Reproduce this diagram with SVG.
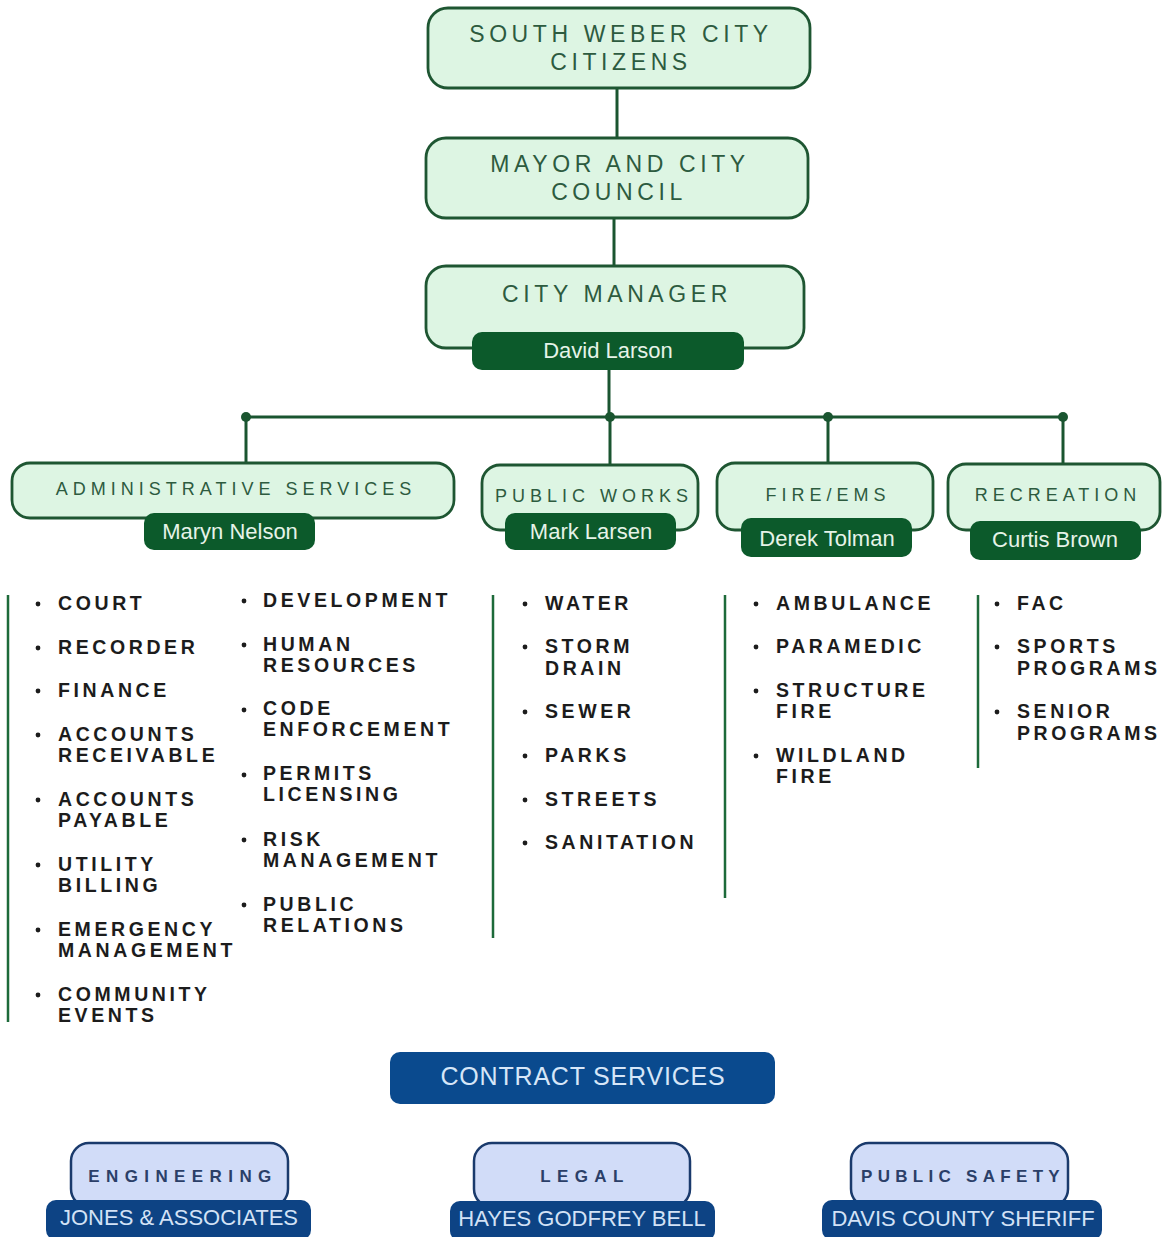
<svg xmlns="http://www.w3.org/2000/svg" width="1162" height="1237" viewBox="0 0 1162 1237">
<style>
.box{fill:#ddf5e3;stroke:#1e5632;stroke-width:2.8}
.pill{fill:#0c5a2b}
.cbox{fill:#d1dcf8;stroke:#1a3a6c;stroke-width:2.5}
.cpill{fill:#0d4384}
.h{font-family:"Liberation Sans",Arial,sans-serif;font-size:23px;letter-spacing:4.6px;fill:#2d5b3f;text-anchor:middle}
.dh{font-family:"Liberation Sans",Arial,sans-serif;font-size:18px;letter-spacing:5px;fill:#2d5b3f;text-anchor:middle}
.nm{font-family:"Liberation Sans",Arial,sans-serif;font-size:22px;fill:#e6f3e8;text-anchor:middle}
.li{font-family:"Liberation Sans",Arial,sans-serif;font-size:19.5px;font-weight:700;letter-spacing:3.6px;fill:#1c1c1c}
.ch{font-family:"Liberation Sans",Arial,sans-serif;font-size:17px;font-weight:700;letter-spacing:6.4px;fill:#2b3f68;text-anchor:middle}
.cn{font-family:"Liberation Sans",Arial,sans-serif;font-size:22px;fill:#d3e2f6;text-anchor:middle}
.ln{stroke:#1a5530;stroke-width:3;fill:none}
.vl{stroke:#1d6a3a;stroke-width:2.5}
.dot{fill:#1a5530}
.b{fill:#1c1c1c}
</style>
<rect width="1162" height="1237" fill="#ffffff"/>
<g id="connectors">
<line class="ln" x1="617" y1="88" x2="617" y2="138"/>
<line class="ln" x1="614" y1="218" x2="614" y2="266"/>
<line class="ln" x1="609" y1="370" x2="609" y2="417"/>
<line class="ln" x1="246" y1="417" x2="1063" y2="417"/>
<line class="ln" x1="246" y1="417" x2="246" y2="463"/>
<line class="ln" x1="610" y1="417" x2="610" y2="465"/>
<line class="ln" x1="828" y1="417" x2="828" y2="463"/>
<line class="ln" x1="1063" y1="417" x2="1063" y2="464"/>
<circle class="dot" cx="246" cy="417" r="5"/>
<circle class="dot" cx="610" cy="417" r="5"/>
<circle class="dot" cx="828" cy="417" r="5"/>
<circle class="dot" cx="1063" cy="417" r="5"/>
</g>
<g id="citizens">
<rect class="box" x="428" y="8" width="382" height="80" rx="20"/>
<text class="h" x="621" y="42">SOUTH WEBER CITY</text>
<text class="h" x="621" y="70">CITIZENS</text>
</g>
<g id="council">
<rect class="box" x="426" y="138" width="382" height="80" rx="20"/>
<text class="h" x="620" y="172">MAYOR AND CITY</text>
<text class="h" x="619" y="200">COUNCIL</text>
</g>
<g id="manager">
<rect class="box" x="426" y="266" width="378" height="82" rx="20"/>
<text class="h" x="617" y="302">CITY MANAGER</text>
<rect class="pill" x="472" y="332" width="272" height="38" rx="10"/>
<text class="nm" x="608" y="358">David Larson</text>
</g>
<g id="admin">
<rect class="box" x="12" y="463" width="442" height="55" rx="18"/>
<text class="dh" x="236" y="495">ADMINISTRATIVE SERVICES</text>
<rect class="pill" x="144" y="513" width="171" height="37" rx="10"/>
<text class="nm" x="230" y="539">Maryn Nelson</text>
</g>
<g id="publicworks">
<rect class="box" x="482" y="465" width="216" height="65" rx="18"/>
<text class="dh" x="594" y="502">PUBLIC WORKS</text>
<rect class="pill" x="505" y="513" width="171" height="37" rx="10"/>
<text class="nm" x="591" y="539">Mark Larsen</text>
</g>
<g id="fireems">
<rect class="box" x="717" y="463" width="216" height="67" rx="18"/>
<text class="dh" x="828" y="501">FIRE/EMS</text>
<rect class="pill" x="741" y="518" width="171" height="39" rx="10"/>
<text class="nm" x="827" y="546">Derek Tolman</text>
</g>
<g id="recreation">
<rect class="box" x="948" y="464" width="212" height="66" rx="18"/>
<text class="dh" x="1058" y="501">RECREATION</text>
<rect class="pill" x="970" y="521" width="171" height="39" rx="10"/>
<text class="nm" x="1055" y="547">Curtis Brown</text>
</g>
<g id="admin-list">
<line class="vl" x1="8" y1="595" x2="8" y2="1022"/>
<circle class="b" cx="38" cy="604" r="2.4"/><text class="li" x="58" y="610">COURT</text>
<circle class="b" cx="38" cy="648" r="2.4"/><text class="li" x="58" y="654">RECORDER</text>
<circle class="b" cx="38" cy="691" r="2.4"/><text class="li" x="58" y="697">FINANCE</text>
<circle class="b" cx="38" cy="735" r="2.4"/><text class="li" x="58" y="741">ACCOUNTS</text><text class="li" x="58" y="762">RECEIVABLE</text>
<circle class="b" cx="38" cy="800" r="2.4"/><text class="li" x="58" y="806">ACCOUNTS</text><text class="li" x="58" y="827">PAYABLE</text>
<circle class="b" cx="38" cy="865" r="2.4"/><text class="li" x="58" y="871">UTILITY</text><text class="li" x="58" y="892">BILLING</text>
<circle class="b" cx="38" cy="930" r="2.4"/><text class="li" x="58" y="936">EMERGENCY</text><text class="li" x="58" y="957">MANAGEMENT</text>
<circle class="b" cx="38" cy="995" r="2.4"/><text class="li" x="58" y="1001">COMMUNITY</text><text class="li" x="58" y="1022">EVENTS</text>
<circle class="b" cx="244" cy="601" r="2.4"/><text class="li" x="263" y="607">DEVELOPMENT</text>
<circle class="b" cx="244" cy="645" r="2.4"/><text class="li" x="263" y="651">HUMAN</text><text class="li" x="263" y="672">RESOURCES</text>
<circle class="b" cx="244" cy="710" r="2.4"/><text class="li" x="263" y="715">CODE</text><text class="li" x="263" y="736">ENFORCEMENT</text>
<circle class="b" cx="244" cy="775" r="2.4"/><text class="li" x="263" y="780">PERMITS</text><text class="li" x="263" y="801">LICENSING</text>
<circle class="b" cx="244" cy="840" r="2.4"/><text class="li" x="263" y="846">RISK</text><text class="li" x="263" y="867">MANAGEMENT</text>
<circle class="b" cx="244" cy="905" r="2.4"/><text class="li" x="263" y="911">PUBLIC</text><text class="li" x="263" y="932">RELATIONS</text>
</g>
<g id="pw-list">
<line class="vl" x1="493" y1="595" x2="493" y2="938"/>
<circle class="b" cx="525" cy="604" r="2.4"/><text class="li" x="545" y="610">WATER</text>
<circle class="b" cx="525" cy="647" r="2.4"/><text class="li" x="545" y="653">STORM</text><text class="li" x="545" y="675">DRAIN</text>
<circle class="b" cx="525" cy="712" r="2.4"/><text class="li" x="545" y="718">SEWER</text>
<circle class="b" cx="525" cy="756" r="2.4"/><text class="li" x="545" y="762">PARKS</text>
<circle class="b" cx="525" cy="800" r="2.4"/><text class="li" x="545" y="806">STREETS</text>
<circle class="b" cx="525" cy="843" r="2.4"/><text class="li" x="545" y="849">SANITATION</text>
</g>
<g id="fire-list">
<line class="vl" x1="725" y1="595" x2="725" y2="898"/>
<circle class="b" cx="756" cy="604" r="2.4"/><text class="li" x="776" y="610">AMBULANCE</text>
<circle class="b" cx="756" cy="647" r="2.4"/><text class="li" x="776" y="653">PARAMEDIC</text>
<circle class="b" cx="756" cy="691" r="2.4"/><text class="li" x="776" y="697">STRUCTURE</text><text class="li" x="776" y="718">FIRE</text>
<circle class="b" cx="756" cy="756" r="2.4"/><text class="li" x="776" y="762">WILDLAND</text><text class="li" x="776" y="783">FIRE</text>
</g>
<g id="rec-list">
<line class="vl" x1="978" y1="595" x2="978" y2="768"/>
<circle class="b" cx="997" cy="604" r="2.4"/><text class="li" x="1017" y="610">FAC</text>
<circle class="b" cx="997" cy="647" r="2.4"/><text class="li" x="1017" y="653">SPORTS</text><text class="li" x="1017" y="675">PROGRAMS</text>
<circle class="b" cx="997" cy="712" r="2.4"/><text class="li" x="1017" y="718">SENIOR</text><text class="li" x="1017" y="740">PROGRAMS</text>
</g>
<g id="contract">
<rect x="390" y="1052" width="385" height="52" rx="10" fill="#0a4a8e"/>
<text x="583" y="1085" font-family="Liberation Sans, Arial, sans-serif" font-size="25" letter-spacing="0.8" fill="#d6e6f8" text-anchor="middle">CONTRACT SERVICES</text>
</g>
<g id="engineering">
<rect class="cbox" x="71" y="1143" width="217" height="64" rx="18"/>
<text class="ch" x="183" y="1182">ENGINEERING</text>
<rect class="cpill" x="46" y="1200" width="265" height="40" rx="10"/>
<text class="cn" x="179" y="1225">JONES &amp; ASSOCIATES</text>
</g>
<g id="legal">
<rect class="cbox" x="474" y="1143" width="216" height="64" rx="18"/>
<text class="ch" x="585" y="1182">LEGAL</text>
<rect class="cpill" x="450" y="1201" width="265" height="40" rx="10"/>
<text class="cn" x="582" y="1226">HAYES GODFREY BELL</text>
</g>
<g id="publicsafety">
<rect class="cbox" x="851" y="1143" width="217" height="64" rx="18"/>
<text class="ch" x="963" y="1182" style="letter-spacing:5.3px">PUBLIC SAFETY</text>
<rect class="cpill" x="822" y="1200" width="280" height="40" rx="10"/>
<text class="cn" x="963" y="1226">DAVIS COUNTY SHERIFF</text>
</g>
</svg>
